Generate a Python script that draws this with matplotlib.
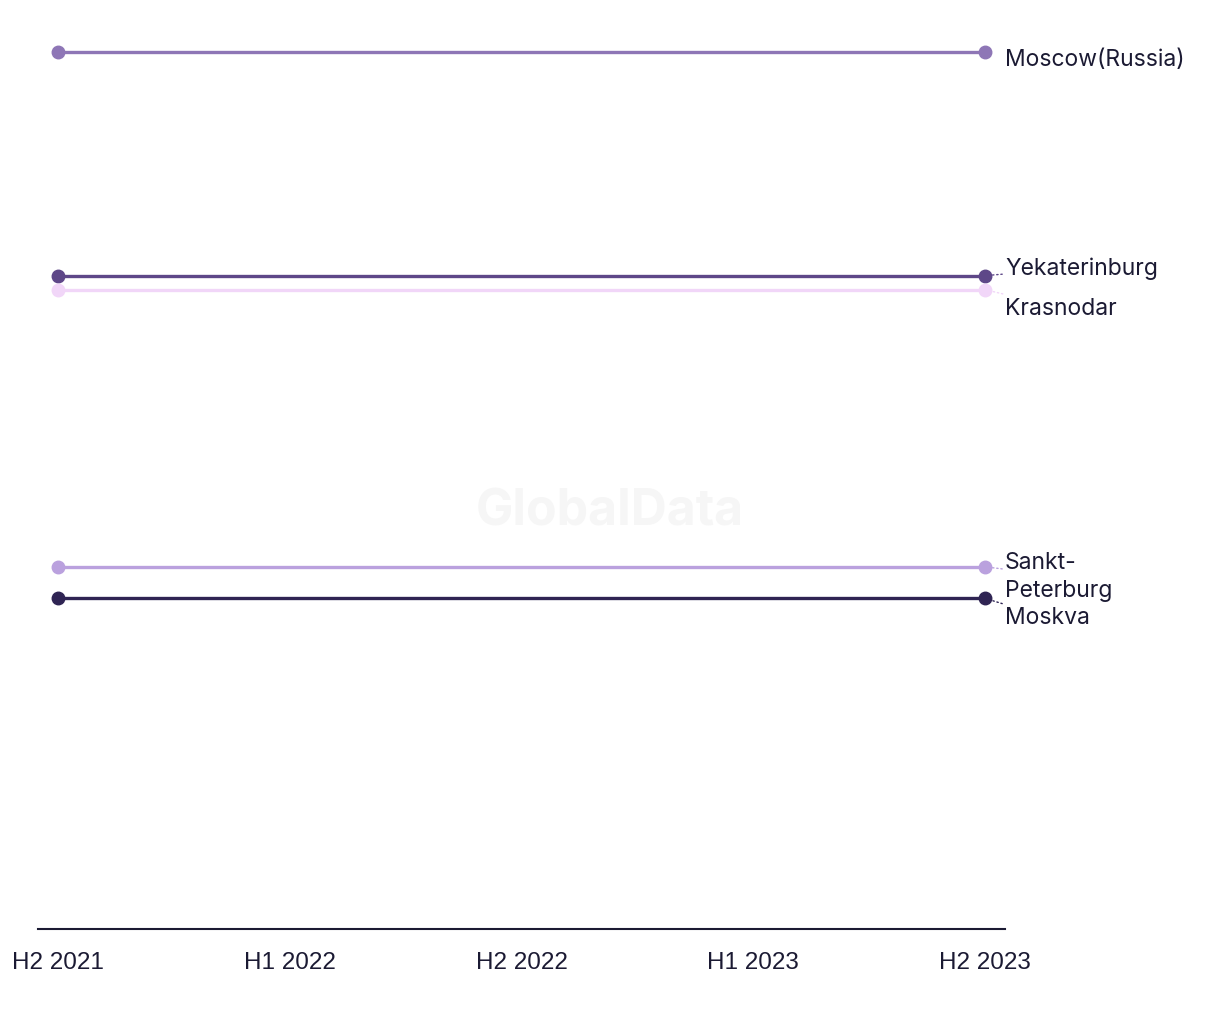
import matplotlib
matplotlib.use("Agg")
import matplotlib.pyplot as plt

periods = ["H2 2021", "H1 2022", "H2 2022", "H1 2023", "H2 2023"]
series_names = ["Moscow(Russia)", "Yekaterinburg", "Krasnodar", "Sankt-\nPeterburg", "Moskva"]
moscow_russia = [100.0, 100.0, 100.0, 100.0, 100.0]
yekaterinburg = [74.5, 74.5, 74.5, 74.5, 74.5]
krasnodar = [72.9, 72.9, 72.9, 72.9, 72.9]
sankt_peterburg = [41.3, 41.3, 41.3, 41.3, 41.3]
moskva = [37.7, 37.7, 37.7, 37.7, 37.7]
series_values = [moscow_russia, yekaterinburg, krasnodar, sankt_peterburg, moskva]
colors = ["#8e76b6", "#5e4788", "#f1d6f8", "#baa1de", "#2f2453"]
label_offsets = [-7, 8, -18, -9, -19]  # pixels (positive = up)
connectors = [False, True, True, True, True]

W, H = 1220, 1020
fig = plt.figure(figsize=(W / 100, H / 100), dpi=100)
ax = fig.add_axes([38 / W, 1 - 930 / H, (1005 - 38) / W, (930 - 20) / H])

x = list(range(len(periods)))
for name, vals, c, off, con in zip(series_names, series_values, colors, label_offsets, connectors):
    ax.plot(x, vals, color=c, lw=2.4, marker="o", markersize=9,
            markevery=[0, len(x) - 1], solid_capstyle="round", zorder=3)
    arrow = dict(arrowstyle="-", linestyle=(0, (1, 2)), color=c, lw=1.0,
                 shrinkA=0, shrinkB=3) if con else None
    ax.annotate(name, xy=(x[-1], vals[-1]), xytext=(20, off), textcoords="offset pixels",
                ha="left", va="center", fontsize=16.5, color="#1b1a33",
                family="Inter", linespacing=1.35,
                arrowprops=arrow, annotation_clip=False)

fig.text(610 / W, 1 - 512 / H, "GlobalData",
         ha="center", va="center", fontsize=36, fontweight="bold", color="#f6f6f6",
         family="Inter", zorder=0)

unit = (985 - 58) / 4
ax.set_xlim(-20 / unit, 4 + 20 / unit)
ax.set_ylim(0, 100 * (930 - 20) / (930 - 53))
ax.set_xticks(x)
ax.set_xticklabels(periods, fontsize=17.5, color="#1b1a33", family="Liberation Sans")
ax.tick_params(axis="x", length=0, pad=16)
ax.set_yticks([])
for s in ["top", "right", "left"]:
    ax.spines[s].set_visible(False)
ax.spines["bottom"].set_color("#1b1a33")
ax.spines["bottom"].set_linewidth(1.5)

fig.savefig("out.png", dpi=100)
